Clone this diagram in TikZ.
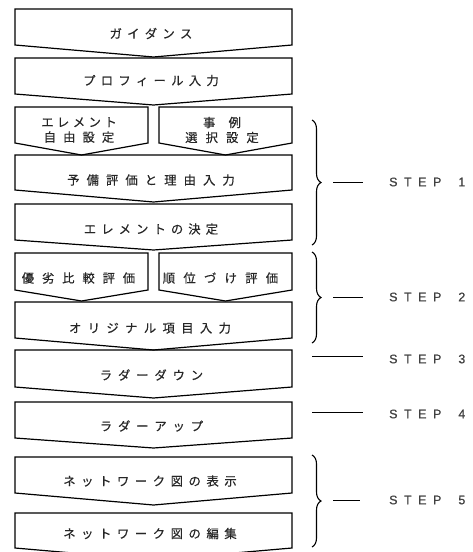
\documentclass[tikz,border=0pt]{standalone}
\usepackage{fontspec}
\setmainfont{Liberation Sans}
\newfontfamily\jpfont[FakeBold=0.5]{Noto Sans CJK JP}
\newfontfamily\stepfont[FakeBold=0.6]{Liberation Sans}
\usetikzlibrary{decorations.pathreplacing}
\ExplSyntaxOn
\NewDocumentCommand\spaced{mm}{\tl_map_inline:nn {#2} {\makebox[#1][c]{##1}}}
\ExplSyntaxOff
\newcommand\steplabel[1]{S\kern6.5pt T\kern6.5pt E\kern6.5pt P\kern17pt #1}
\newcommand\chevbox[5]{\draw[boxline] (#1,#3) -- (#2,#3) -- (#2,#4) -- ({(#1+#2)/2},#5) -- (#1,#4) -- cycle;}
\begin{document}
\begin{tikzpicture}[x=1pt,y=-1pt,
  boxline/.style={line width=1.2pt, line join=miter},
  jtext/.style={inner sep=0pt, text=black!85, font=\jpfont\fontsize{12.3}{15}\selectfont, align=center},
  steptext/.style={inner sep=0pt, anchor=west, text=black!75, font=\stepfont\fontsize{12.5}{14}\selectfont},
  conn/.style={line width=1pt},
  bracestyle/.style={line width=1.1pt, decorate, decoration={brace, amplitude=9pt}}]
\useasboundingbox (0,0) rectangle (472,552);
\clip (0,0) rectangle (472,552);
% boxes
\chevbox{15}{292}{9}{45}{57}
\chevbox{15}{292}{58}{94}{105}
\chevbox{15}{148}{107}{143}{155}
\chevbox{159}{292}{107}{143}{155}
\chevbox{15}{292}{155}{190}{202}
\chevbox{15}{292}{204}{240}{250}
\chevbox{15}{148}{253}{290}{301}
\chevbox{159}{292}{253}{290}{301}
\chevbox{15}{292}{302}{338}{350}
\chevbox{15}{292}{350}{387}{398}
\chevbox{15}{292}{402}{438}{448}
\chevbox{15}{292}{457}{493}{505}
\chevbox{15}{292}{513}{548}{560}
% texts
\node[jtext] (guide) at (151,33.5) {\spaced{17.6pt}{ガイダンス}};
\node[jtext] (profile) at (151,80.5) {\spaced{17.6pt}{プロフィール入力}};
\node[jtext] (elemfree) at (79,130) {\spaced{15.8pt}{エレメント}\\[0pt]\spaced{19.4pt}{自由設定}};
\node[jtext] (caseset) at (222,130) {\spaced{25.5pt}{事例}\\[0pt]\spaced{20.4pt}{選択設定}};
\node[jtext] (prelim) at (151,180) {\spaced{19.4pt}{予備評価と理由入力}};
\node[jtext] (elemdec) at (151,229) {\spaced{17.4pt}{エレメントの決定}};
\node[jtext] (compare) at (78.5,278) {\spaced{20.2pt}{優劣比較評価}};
\node[jtext] (rank) at (220.5,278) {\spaced{20.6pt}{順位づけ評価}};
\node[jtext] (orig) at (150,328) {\spaced{18.7pt}{オリジナル項目入力}};
\node[jtext] (ldown) at (151.5,375) {\spaced{18.2pt}{ラダーダウン}};
\node[jtext] (lup) at (151.5,426) {\spaced{18.2pt}{ラダーアップ}};
\node[jtext] (netshow) at (150,481) {\spaced{17.9pt}{ネットワーク図の表示}};
\node[jtext] (netedit) at (150,533.5) {\spaced{17.9pt}{ネットワーク図の編集}};
% braces
\draw[bracestyle] (312,120) -- (312,245);
\draw[bracestyle] (312,252) -- (312,343);
\draw[bracestyle] (312,455) -- (312,547);
% step labels
\node[steptext] (s1) at (389,182) {\steplabel{1}};
\node[steptext] (s2) at (389,297) {\steplabel{2}};
\node[steptext] (s3) at (389,359) {\steplabel{3}};
\node[steptext] (s4) at (389,414) {\steplabel{4}};
\node[steptext] (s5) at (389,500) {\steplabel{5}};
% connector ends
\coordinate (a1) at (333,182); \coordinate (e1) at (363,182);
\coordinate (a2) at (333,297); \coordinate (e2) at (363,297);
\coordinate (a3) at (312,356); \coordinate (e3) at (363,356);
\coordinate (a4) at (312,412); \coordinate (e4) at (363,412);
\coordinate (a5) at (333,500); \coordinate (e5) at (360,500);
\draw[conn] (a1) -- (e1);
\draw[conn] (a2) -- (e2);
\draw[conn] (a3) -- (e3);
\draw[conn] (a4) -- (e4);
\draw[conn] (a5) -- (e5);
\end{tikzpicture}
\end{document}
